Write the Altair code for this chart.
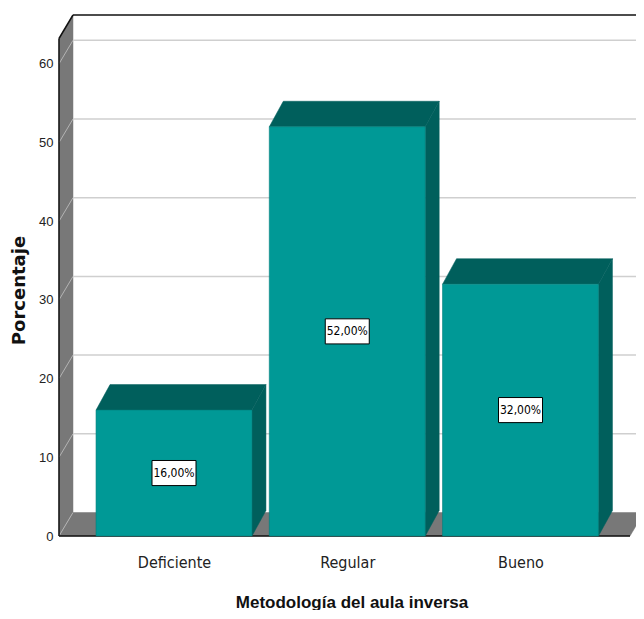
import json
import altair as alt
import pandas as pd

# ---- data ----
categories = ["Deficiente", "Regular", "Bueno"]
values = [16.0, 52.0, 32.0]
value_labels = ["16,00%", "52,00%", "32,00%"]
y_ticks = [0, 10, 20, 30, 40, 50, 60]
x_title = "Metodología del aula inversa"
y_title = "Porcentaje"

# ---- styling / 3D geometry (styles, not data) ----
W_FULL, H = 585, 521          # full 3D frame (reference is cropped at its right edge)
W = 577                       # visible plot width (keeps the page from overflowing)
Y_TOP = 66.2
PX_Y = H / Y_TOP
STEP_PX = 173.25
X_MIN = -115 / STEP_PX
X_MAX = X_MIN + W_FULL / STEP_PX
X_VIS = X_MIN + W / STEP_PX
WALL_DX = 14 / STEP_PX
WALL_DY = 23.5 / PX_Y
BAR_DX = 14 / STEP_PX
BAR_DY = 25.5 / PX_Y
HALF = 0.45
FRONT_RIGHT = X_MAX - WALL_DX

FRONT = "#009996"
DARK = "#005f5c"
WALL = "#787878"
COND = "DejaVu Sans Condensed, Liberation Sans, sans-serif"

xs = alt.Scale(domain=[X_MIN, X_VIS], nice=False, zero=False)
ys = alt.Scale(domain=[0, Y_TOP], nice=False, zero=False)

label_expr = json.dumps(categories) + "[datum.value]"
AX = alt.Axis(values=list(range(len(categories))), labelExpr=label_expr,
              title=x_title, domain=False, ticks=False, grid=False,
              labelFont=COND, labelFontSize=16, labelColor="#222222",
              labelBaseline="alphabetic", labelPadding=31,
              titleFont="Liberation Sans", titleFontSize=17, titleFontWeight="bold",
              titleColor="#111111", titleBaseline="alphabetic", titleY=71,
              titleX=(W_FULL / 2))
AY = alt.Axis(values=y_ticks, title=y_title, domain=False, ticks=False,
              grid=False, labelFont="Liberation Sans", labelFontSize=13,
              labelColor="#222222", labelPadding=6,
              titleFont="DejaVu Sans", titleFontSize=18, titleFontWeight="bold",
              titleColor="#111111", titleBaseline="alphabetic", titleX=-35, titleY=275)

# polygons built from the values
poly = []
def add(pid, kind, pts):
    for (x, y, y2) in pts:
        poly.append({"pid": pid, "kind": kind, "x": x, "y": y, "y2": y2})

add("floor", "wall", [(X_MIN, 0, 0), (X_MIN + WALL_DX, WALL_DY, 0),
                      (FRONT_RIGHT, WALL_DY, 0), (X_MAX, WALL_DY, WALL_DY)])
add("left", "wall", [(X_MIN, Y_TOP - WALL_DY, 0), (X_MIN + WALL_DX, Y_TOP, WALL_DY)])
for i, v in enumerate(values):
    L, R = i - HALF, i + HALF
    add(f"top{i}", "dark", [(L, v, v), (L + BAR_DX, v + BAR_DY, v),
                            (R, v + BAR_DY, v), (R + BAR_DX, v + BAR_DY, v + BAR_DY)])
    add(f"side{i}", "dark", [(R, v, 0), (R + BAR_DX, v + BAR_DY, BAR_DY)])
poly_df = pd.DataFrame(poly)

bars_df = pd.DataFrame({
    "cat": categories,
    "v": values,
    "lab": value_labels,
    "x0": [i - HALF for i in range(len(values))],
    "x1": [i + HALF for i in range(len(values))],
    "xc": list(range(len(values))),
    "half": [v / 2 for v in values],
})

grid_df = pd.DataFrame({"t": y_ticks})
grid_df["tb"] = grid_df["t"] + WALL_DY
grid_df["xa"] = X_MIN
grid_df["xb"] = X_MIN + WALL_DX
grid_df["xe"] = X_MAX

def polys(kind, color):
    return alt.Chart(poly_df).transform_filter(alt.datum.kind == kind).mark_area(
        orient="vertical", color=color, stroke=color, strokeWidth=0.5
    ).encode(
        x=alt.X("x:Q", scale=xs, axis=AX),
        y=alt.Y("y:Q", scale=ys, axis=AY),
        y2="y2:Q",
        detail="pid:N",
    )

walls = polys("wall", WALL)
bar_dark = polys("dark", DARK)

diag = alt.Chart(grid_df).mark_rule(color="#b4b4b4", strokeWidth=1).encode(
    x=alt.X("xa:Q", scale=xs, axis=AX), x2="xb:Q",
    y=alt.Y("t:Q", scale=ys, axis=AY), y2="tb:Q",
)
back_grid = alt.Chart(grid_df).transform_filter(alt.datum.t > 0).mark_rule(
    color="#cfcfcf", strokeWidth=1.5
).encode(
    x=alt.X("xb:Q", scale=xs, axis=AX), x2="xe:Q",
    y=alt.Y("tb:Q", scale=ys, axis=AY),
)

edges_df = pd.DataFrame({
    "xa": [X_MIN + WALL_DX, X_MIN, X_MIN, X_MIN],
    "xb": [X_MAX, X_MIN + WALL_DX, X_MIN, FRONT_RIGHT],
    "ya": [Y_TOP, Y_TOP - WALL_DY, 0, 0],
    "yb": [Y_TOP, Y_TOP, Y_TOP - WALL_DY, 0],
})
edges = alt.Chart(edges_df).mark_rule(color="#111111", strokeWidth=1.5).encode(
    x=alt.X("xa:Q", scale=xs, axis=AX), x2="xb:Q",
    y=alt.Y("ya:Q", scale=ys, axis=AY), y2="yb:Q",
)

fronts = alt.Chart(bars_df).mark_rect(color=FRONT, stroke="#007f7c", strokeWidth=0.6).encode(
    x=alt.X("x0:Q", scale=xs, axis=AX),
    x2="x1:Q",
    y=alt.Y("v:Q", scale=ys, axis=AY),
    y2=alt.datum(0),
)

boxes = alt.Chart(bars_df).mark_point(
    shape="M-1,-0.57L1,-0.57L1,0.57L-1,0.57Z", size=1936, filled=True,
    fill="white", stroke="black", strokeWidth=1, opacity=1
).encode(
    x=alt.X("xc:Q", scale=xs, axis=AX),
    y=alt.Y("half:Q", scale=ys, axis=AY),
)
texts = alt.Chart(bars_df).mark_text(
    font=COND, fontSize=12, color="black", baseline="middle", align="center"
).encode(
    x=alt.X("xc:Q", scale=xs, axis=AX),
    y=alt.Y("half:Q", scale=ys, axis=AY),
    text="lab:N",
)

chart = alt.layer(
    walls, diag, back_grid, edges, bar_dark, fronts, boxes, texts
).properties(
    width=W, height=H,
    autosize=alt.AutoSizeParams(type="none"),
    padding={"left": 51, "top": 7, "right": 0, "bottom": 74},
    background="white",
).configure_view(stroke=None)

chart.save("out.html", embed_options={"renderer": "svg", "actions": False})
